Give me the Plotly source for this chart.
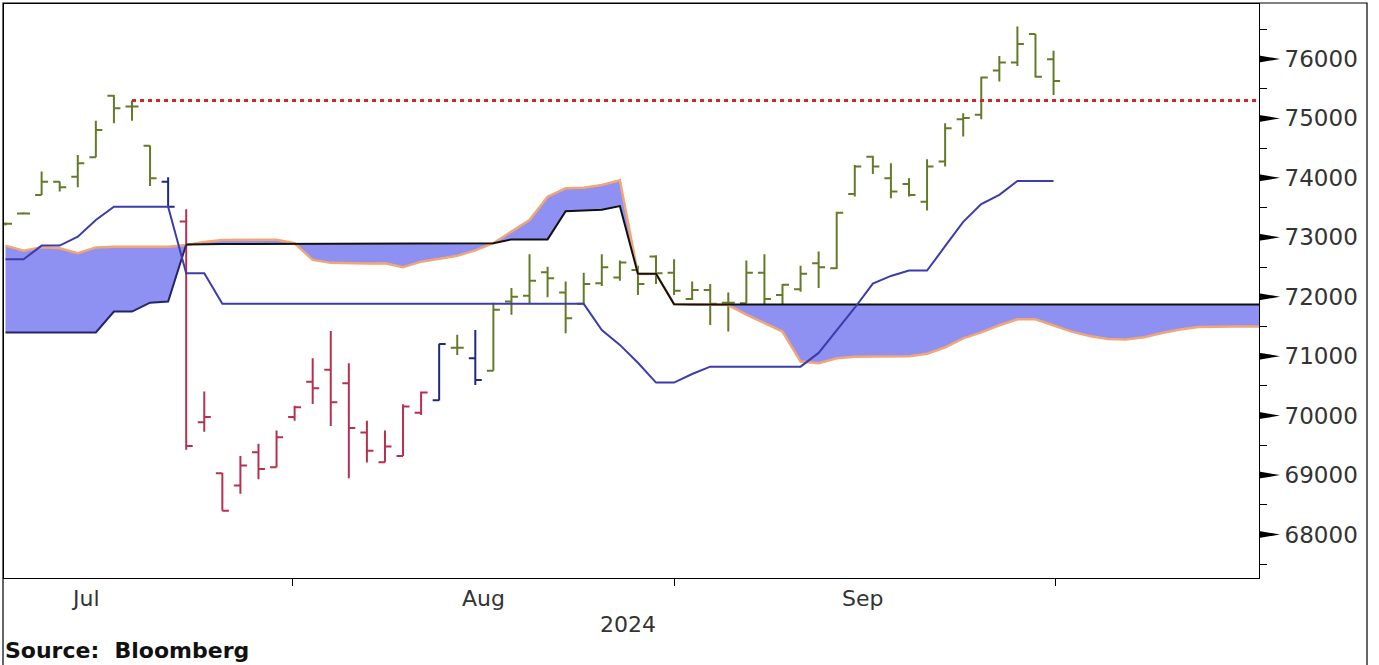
import plotly.graph_objects as go

# ---------------- data ----------------
# x = trading-day index of each daily bar (0 = first bar shown, early Jul 2024)
bar_index = list(range(59))

opens = [73230, 73400, 73710, 73935, 74020, 74345, 75380, 75200, 74540, 73935,
         73265, 69890, 69030, 68825, 69385, 69130, 69975, 70570, 70770, 70545,
         69715, 69215, 69320, 70050, 70260, 71140, 70965, 70755, 71920, 72015,
         72410, 72070, 71880, 72225, 72325, 72450, 72675, 72405, 71960, 72115,
         71900, 71890, 72405, 72030, 72125, 72565, 72480, 73730, 74355, 73995,
         73895, 73600, 74275, 74985, 75060, 75805, 75940, 76420, 75995]
highs = [73250, 73420, 74105, 73940, 74385, 74960, 75395, 75300, 74545, 74010,
         73470, 70405, 69035, 69320, 69525, 69750, 70165, 70965, 71425, 70880,
         69915, 69750, 70190, 70405, 71210, 71360, 71440, 71900, 72145, 72715,
         72505, 72255, 72405, 72715, 72610, 72520, 72700, 72630, 72255, 72215,
         72070, 72610, 72715, 72215, 72520, 72760, 73430, 74215, 74370, 74245,
         73995, 74315, 74920, 75085, 75700, 76050, 76545, 76420, 76140]
lows = [73200, 73390, 73710, 73770, 73840, 74345, 74920, 74960, 73865, 73500,
        69425, 69730, 68400, 68685, 68930, 69130, 69915, 70195, 69825, 68945,
        69210, 69215, 69320, 70010, 70255, 71020, 70515, 70755, 71695, 71880,
        71990, 71385, 71880, 72180, 72270, 72030, 72215, 72030, 71945, 71525,
        71415, 71890, 71780, 71750, 72085, 72145, 72465, 73685, 74065, 73655,
        73685, 73450, 74190, 74695, 74985, 75620, 75880, 75690, 75395]
closes = [73230, 73400, 73935, 73840, 74245, 74805, 75170, 75200, 73995, 73515,
          69490, 69975, 68400, 69160, 69100, 69635, 70140, 70460, 70225, 69790,
          69410, 69480, 70155, 70390, 71205, 71140, 70600, 71780, 72000, 72270,
          72310, 71640, 72215, 72495, 72575, 72215, 72395, 72100, 72115, 71880,
          71900, 72405, 71960, 72200, 72385, 72495, 73415, 74190, 74190, 73770,
          73710, 74190, 74835, 75005, 75690, 75940, 76250, 75700, 75630]
# bar colour class per bar: g = green, r = red, n = navy
bar_class = ["g", "g", "g", "g", "g", "g", "g", "g", "g", "n",
             "r", "r", "r", "r", "r", "r", "r", "r", "r", "r",
             "r", "r", "r", "r", "n", "g", "n", "g", "g", "g",
             "g", "g", "g", "g", "g", "g", "g", "g", "g", "g",
             "g", "g", "g", "g", "g", "g", "g", "g", "g", "g",
             "g", "g", "g", "g", "g", "g", "g", "g", "g"]

# base line (blue), one value per bar
kijun = [72630, 72630, 72860, 72860, 73010, 73290, 73515, 73515, 73515, 73515,
         72395, 72395, 71880, 71880, 71880, 71880, 71880, 71880, 71880, 71880,
         71880, 71880, 71880, 71880, 71880, 71880, 71880, 71880, 71880, 71880,
         71880, 71880, 71880, 71440, 71190, 70890, 70556, 70556, 70700, 70824,
         70824, 70824, 70824, 70824, 70824, 71055, 71435, 71815, 72220, 72350,
         72440, 72440, 72850, 73260, 73560, 73715, 73948, 73948, 73948]

# cloud spans (projected forward past the last bar)
span_a = [71400, 71400, 71400, 71400, 71400, 71400, 71750, 71750, 71900, 71920,
          72880, 72888, 72888, 72888, 72888, 72888, 72888, 72888, 72888, 72888,
          72888, 72888, 72888, 72888, 72888, 72888, 72888, 72900, 72965, 72965,
          72965, 73440, 73455, 73465, 73525, 72385, 72385, 71875, 71870, 71870,
          71870, 71870, 71870, 71870, 71870, 71870, 71870, 71870, 71870, 71870,
          71870, 71870, 71870, 71870, 71870, 71870, 71870, 71870, 71870, 71870,
          71870, 71870, 71870, 71870, 71870, 71870, 71870, 71870, 71870, 71870,
          71870]
span_b = [72860, 72776, 72832, 72816, 72731, 72830, 72843, 72843, 72843, 72843,
          72870, 72920, 72955, 72960, 72967, 72960, 72900, 72620, 72570, 72560,
          72560, 72564, 72496, 72590, 72640, 72690, 72780, 72900, 73096, 73290,
          73684, 73825, 73835, 73880, 73960, 72384, 72384, 71879, 71870, 71870,
          71860, 71700, 71560, 71414, 70909, 70880, 70966, 70990, 70993, 70993,
          71000, 71040, 71150, 71300, 71400, 71520, 71620, 71620, 71510, 71413,
          71340, 71290, 71280, 71320, 71390, 71450, 71490, 71500, 71500, 71500,
          71500]

resistance_level = 75300
resistance_start = 7

month_labels = ["Jul", "Aug", "Sep"]
month_label_pos = [4.45, 26.45, 47.4]
month_bounds = [15.91, 37.0, 58.13]
year_label = "2024"
y_major = [68000, 69000, 70000, 71000, 72000, 73000, 74000, 75000, 76000]
y_minor = [67500, 68500, 69500, 70500, 71500, 72500, 73500, 74500, 75500, 76500]
source_text = "Source:\u00a0 Bloomberg"

# ---------------- styling ----------------
X_RANGE = [-0.083, 69.37]
Y_RANGE = [67268, 76925]
W, H = 1379, 665
ML, MR, MT, MB = 4, 120, 4, 87
PW, PH = W - ML - MR, H - MT - MB
FONT = "DejaVu Sans"
colors = {"g": "#647a28", "r": "#b8304f", "n": "#1f2a7a"}

fig = go.Figure()
cloud_x = list(range(len(span_a)))

fig.add_trace(go.Scatter(x=cloud_x, y=span_a, mode="lines",
                         line=dict(width=0, color="rgba(0,0,0,0)"), hoverinfo="skip"))
fig.add_trace(go.Scatter(x=cloud_x, y=span_b, mode="lines",
                         line=dict(color="#f0a676", width=2.5),
                         fill="tonexty", fillcolor="#8e90f2"))
fig.add_trace(go.Scatter(x=cloud_x[:11], y=span_a[:11], mode="lines",
                         line=dict(color="#23256a", width=2)))
fig.add_trace(go.Scatter(x=cloud_x[10:], y=span_a[10:], mode="lines",
                         line=dict(color="#111111", width=2)))
fig.add_trace(go.Scatter(x=bar_index, y=kijun, mode="lines",
                         line=dict(color="#3c3cab", width=2)))
fig.add_trace(go.Scatter(x=[resistance_start, X_RANGE[1]],
                         y=[resistance_level, resistance_level], mode="lines",
                         line=dict(color="#cc2a2a", width=3, dash="4px,4px")))

for key in ["g", "r", "n"]:
    idx = [i for i, c in enumerate(bar_class) if c == key]
    fig.add_trace(go.Ohlc(
        x=[bar_index[i] for i in idx],
        open=[opens[i] for i in idx], high=[highs[i] for i in idx],
        low=[lows[i] for i in idx], close=[closes[i] for i in idx],
        increasing=dict(line=dict(color=colors[key], width=2)),
        decreasing=dict(line=dict(color=colors[key], width=2)),
        tickwidth=0.36))

# right-axis wedge ticks
wedge_len = 21 / PW
wedge_half = 3.5 * (Y_RANGE[1] - Y_RANGE[0]) / PH
shapes = []
for v in y_major:
    shapes.append(dict(type="path", xref="paper", yref="y",
                       path=f"M 1,{v + wedge_half} L {1 + wedge_len},{v} L 1,{v - wedge_half} Z",
                       fillcolor="black", line=dict(width=0)))
# outer frame
shapes.append(dict(type="rect", xref="paper", yref="paper",
                   x0=-1 / PW, x1=1 + 108 / PW, y0=-0.3, y1=1 + 1 / PH,
                   line=dict(color="black", width=1.2)))

annotations = []
for lab, pos in zip(month_labels, month_label_pos):
    annotations.append(dict(text=lab, x=pos, xref="x", y=-20 / PH, yref="paper",
                            showarrow=False, yanchor="middle",
                            font=dict(family=FONT, size=22, color="#333333")))
annotations.append(dict(text=year_label, x=0.497, xref="paper", y=-47 / PH, yref="paper",
                        showarrow=False, yanchor="middle",
                        font=dict(family=FONT, size=22, color="#333333")))
annotations.append(dict(text=source_text, x=-1 / PW, xref="paper", xanchor="left",
                        y=-72 / PH, yref="paper", yanchor="middle", showarrow=False,
                        font=dict(family=FONT, size=22, color="#111111", weight="bold")))

fig.update_layout(
    width=W, height=H, margin=dict(l=ML, r=MR, t=MT, b=MB),
    paper_bgcolor="white", plot_bgcolor="white", showlegend=False,
    shapes=shapes, annotations=annotations,
    xaxis=dict(range=X_RANGE, showgrid=False, zeroline=False, showline=True,
               linecolor="black", linewidth=1, mirror=True,
               tickvals=month_bounds, ticktext=["", "", ""], ticks="outside",
               ticklen=7, tickcolor="black", rangeslider=dict(visible=False)),
    yaxis=dict(range=Y_RANGE, side="right", showgrid=False, zeroline=False,
               showline=True, linecolor="black", linewidth=1, mirror=True,
               tickvals=y_major, ticktext=[str(v) for v in y_major],
               ticks="outside", ticklen=20, tickcolor="rgba(0,0,0,0)",
               tickfont=dict(family=FONT, size=23, color="#333333"),
               minor=dict(tickvals=y_minor, ticks="outside", ticklen=7,
                          tickcolor="black", tickwidth=1)),
)

fig.write_html("out.html", config={"displayModeBar": False},
               post_script="document.body.style.margin='0';")
